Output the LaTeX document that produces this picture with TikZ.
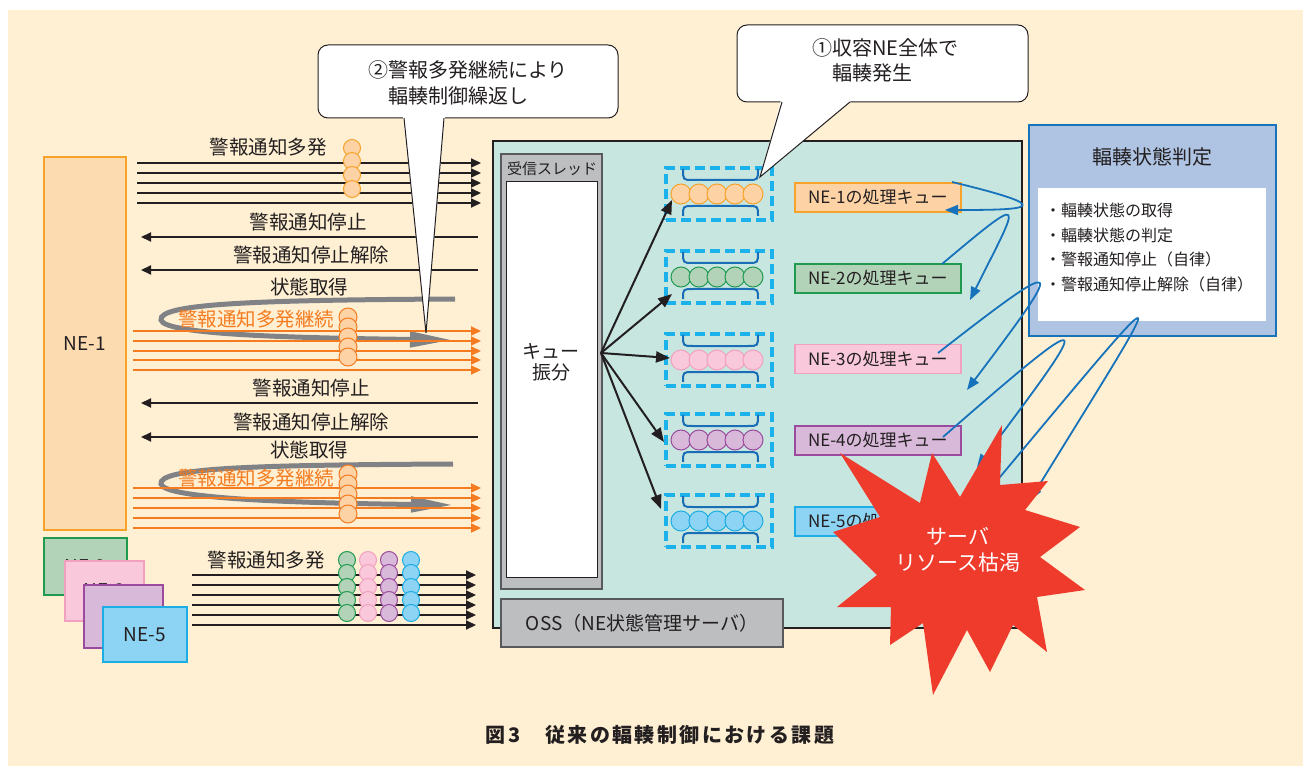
\documentclass[tikz,border=0pt]{standalone}
\usepackage{fontspec}
\setmainfont{Noto Sans CJK JP}
\usetikzlibrary{arrows.meta}
\definecolor{cream}{HTML}{FFF0D3}
\definecolor{txt}{HTML}{231F20}
\definecolor{teal}{HTML}{C8E6E0}
\definecolor{ne1f}{HTML}{FDDBB1}
\definecolor{ne1d}{HTML}{F7A22B}
\definecolor{q1f}{HTML}{FDD3A6}
\definecolor{ne2f}{HTML}{B3D3B9}
\definecolor{ne2d}{HTML}{1F9A4E}
\definecolor{ne3f}{HTML}{F9C8DA}
\definecolor{ne3d}{HTML}{F2A0C0}
\definecolor{ne4f}{HTML}{D8B9DA}
\definecolor{ne4d}{HTML}{9A4B9D}
\definecolor{ne5f}{HTML}{8DD3F4}
\definecolor{ne5d}{HTML}{1CADE4}
\definecolor{orn}{HTML}{F47B20}
\definecolor{loopgray}{HTML}{808285}
\definecolor{gbox}{HTML}{BCBEC0}
\definecolor{gboxd}{HTML}{58595B}
\definecolor{dashc}{HTML}{1BB1EA}
\definecolor{brk}{HTML}{1A6EB5}
\definecolor{rboxf}{HTML}{AFC4E3}
\definecolor{rboxd}{HTML}{1673BA}
\definecolor{blu}{HTML}{1672BA}
\definecolor{burst}{HTML}{EE3B2C}
\begin{document}
\begin{tikzpicture}[x=1pt,y=-1pt,
  lbl/.style={font=\fontsize{19.5}{22}\selectfont, text=txt, inner sep=0pt},
  olbl/.style={font=\fontsize{19.5}{22}\selectfont, text=orn, inner sep=0pt},
  blk/.style={draw=txt, line width=2pt, -{Triangle[length=10pt,width=9pt]}},
  org/.style={draw=orn, line width=2pt, -{Triangle[length=10pt,width=9pt]}},
  grayloop/.style={draw=loopgray, line width=5pt, -{Triangle[length=42pt,width=15pt]}},
  ball/.style={circle, minimum size=17pt, inner sep=0pt, line width=1pt},
  qball/.style={circle, minimum size=20pt, inner sep=0pt, line width=1pt},
  nebox/.style={draw, line width=2.5pt, inner sep=0pt, font=\fontsize{19}{22}\selectfont, text=txt},
  qbox/.style={draw=dashc, line width=3.5pt, dash pattern=on 10pt off 5pt, minimum width=106pt, minimum height=52pt, inner sep=0pt},
  bracket/.style={draw=brk, line width=2pt},
  fanarr/.style={draw=txt, line width=2pt, -{Triangle[length=14pt,width=11pt]}},
  qlab/.style={draw, line width=1.2pt, minimum width=166pt, minimum height=29pt, inner sep=0pt, font=\fontsize{17}{20}\selectfont, text=txt, text width=140pt, align=left},
  bcurve/.style={draw=blu, line width=1.8pt, -{Triangle[length=13pt,width=10pt]}},
  callout/.style={draw=txt, line width=1pt, fill=white},
]
\useasboundingbox (0,0) rectangle (1310,770);
\fill[white] (0,0) rectangle (1310,770);
\fill[cream] (8,10) rectangle (1303,766);

% ---------- NE boxes ----------
\node[nebox, fill=ne1f, draw=ne1d, minimum width=82pt, minimum height=373pt] (ne1) at (85,343.5) {NE-1};
\node[nebox, fill=ne2f, draw=ne2d, minimum width=83pt, minimum height=57pt] (ne2) at (85.5,566.5) {NE-2};
\node[nebox, fill=ne3f, draw=ne3d, minimum width=79pt, minimum height=60pt] (ne3) at (104.5,591) {NE-3};
\node[nebox, fill=ne4f, draw=ne4d, minimum width=79pt, minimum height=63pt] (ne4) at (123.5,616.5) {NE-4};
\node[nebox, fill=ne5f, draw=ne5d, minimum width=84pt, minimum height=55pt] (ne5) at (145,634.5) {NE-5};

% ---------- top group ----------
\node[lbl] (la1) at (268,147) {警報通知多発};
\foreach \y [count=\i] in {163,173,183,193,203} {
  \coordinate (as\i) at (137,\y); \coordinate (ae\i) at (481,\y);
  \draw[blk] (as\i) -- (ae\i);
}
\foreach \y [count=\i] in {148,161,175,189} {
  \node[ball, fill=q1f, draw=ne1d] (oa\i) at (352,\y) {};
}
\node[lbl] (lb1) at (308,222) {警報通知停止};
\coordinate (bs1) at (478,237); \coordinate (be1) at (141,237);
\draw[blk] (bs1) -- (be1);
\node[lbl] (lb2) at (311,255) {警報通知停止解除};
\coordinate (bs2) at (478,270); \coordinate (be2) at (141,270);
\draw[blk] (bs2) -- (be2);
\node[lbl] (lb3) at (309,287) {状態取得};
\coordinate (l1s) at (455,299); \coordinate (l1e) at (452,340);
\draw[grayloop] (l1s) .. controls (250,300) and (158,304) .. (161,320) .. controls (164,335) and (300,338) .. (l1e);
\node[olbl] (lo1) at (256,319) {警報通知多発継続};
\foreach \y [count=\i] in {331,341,351,360,370} {
  \coordinate (os\i) at (133,\y); \coordinate (oe\i) at (481,\y);
  \draw[org] (os\i) -- (oe\i);
}
\foreach \y [count=\i] in {317,327,337,347,357} {
  \node[ball, minimum size=18pt, fill=q1f, draw=orn] (ob\i) at (348,\y) {};
}

% ---------- second group ----------
\node[lbl] (lc1) at (311,388) {警報通知停止};
\coordinate (cs1) at (478,403); \coordinate (ce1) at (141,403);
\draw[blk] (cs1) -- (ce1);
\node[lbl] (lc2) at (311,422) {警報通知停止解除};
\coordinate (cs2) at (478,437); \coordinate (ce2) at (141,437);
\draw[blk] (cs2) -- (ce2);
\node[lbl] (lc3) at (309,450) {状態取得};
\coordinate (l2s) at (453,464); \coordinate (l2e) at (453,505);
\draw[grayloop] (l2s) .. controls (250,465) and (158,468) .. (161,484) .. controls (164,499) and (300,503) .. (l2e);
\node[olbl] (lo2) at (256,478) {警報通知多発継続};
\foreach \y [count=\i] in {488,498,508,518,528} {
  \coordinate (ps\i) at (133,\y); \coordinate (pe\i) at (481,\y);
  \draw[org] (ps\i) -- (pe\i);
}
\foreach \y [count=\i] in {474,484,494,504,514} {
  \node[ball, minimum size=18pt, fill=q1f, draw=orn] (oc\i) at (348,\y) {};
}

% ---------- bottom group ----------
\node[lbl] (ld1) at (266,560) {警報通知多発};
\foreach \y [count=\i] in {575,585,595,605,615,625} {
  \coordinate (ds\i) at (192,\y); \coordinate (de\i) at (476,\y);
  \draw[blk] (ds\i) -- (de\i);
}
\foreach \x/\f/\d [count=\j] in {347/ne2f/ne2d, 368/ne3f/ne3d, 389/ne4f/ne4d, 411/ne5f/ne5d} {
  \foreach \y [count=\i] in {560,573,587,600,613} {
    \node[ball, fill=\f, draw=\d] (db\j\i) at (\x,\y) {};
  }
}

% ---------- callout 2 ----------
\draw[callout, rounded corners=10pt] (318,45) rectangle (618,118);
\fill[white] (403,116) -- (426,333) -- (445,116) -- cycle;
\draw[draw=txt, line width=1pt] (404,118) -- (426,333) -- (444,118);
\node[lbl, font=\fontsize{20}{26}\selectfont, align=left, anchor=west] (c2t) at (368,83) {②警報多発継続により\\　輻輳制御繰返し};

% ---------- OSS server ----------
\node[draw=txt, line width=1.8pt, fill=teal, minimum width=529pt, minimum height=487pt, inner sep=0pt] (oss) at (757.5,384.5) {};
\node[draw=gboxd, line width=1.5pt, fill=gbox, minimum width=101pt, minimum height=435pt, inner sep=0pt] (rth) at (551.5,371.5) {};
\node[lbl, font=\fontsize{15}{18}\selectfont] (rtht) at (552,169) {受信スレッド};
\node[draw=txt, line width=1pt, fill=white, minimum width=91pt, minimum height=395pt, inner sep=0pt] (rthi) at (551.5,379.5) {};
\node[lbl, font=\fontsize{19}{21}\selectfont, align=center] (dist) at (551,362) {キュー\\振分};
\node[draw=gboxd, line width=1.5pt, fill=gbox, minimum width=282pt, minimum height=48pt, inner sep=0pt, font=\fontsize{19}{22}\selectfont, text=txt] (osslab) at (642,623) {OSS（NE状態管理サーバ）};

% ---------- queues ----------
\foreach \i/\cy/\f/\d in {1/194/q1f/ne1d, 2/277/ne2f/ne2d, 3/360/ne3f/ne3d, 4/440/ne4f/ne4d, 5/521/ne5f/ne5d} {
  \node[qbox] (q\i) at (719,\cy) {};
  \foreach \k in {0,...,4} {
    \node[qball, fill=\f, draw=\d] (q\i c\k) at ({681+18*\k},\cy) {};
  }
  \draw[bracket] (683,{\cy-25}) .. controls (683,{\cy-14}) .. (693,{\cy-14}) -- (748,{\cy-14}) .. controls (758,{\cy-14}) .. (758,{\cy-25});
  \draw[bracket] (683,{\cy+22}) .. controls (683,{\cy+12}) .. (693,{\cy+12}) -- (748,{\cy+12}) .. controls (758,{\cy+12}) .. (758,{\cy+22});
}
\coordinate (fan) at (601,353);
\coordinate (t1) at (672,200);
\coordinate (t2) at (672,294);
\coordinate (t3) at (670,358);
\coordinate (t4) at (664,442);
\coordinate (t5) at (661,509);
\foreach \i in {1,...,5} { \draw[fanarr] (fan) -- (t\i); }

% ---------- queue labels ----------
\node[qlab, fill=q1f, draw=ne1d] (lq1) at (878,197.5) {NE-1の処理キュー};
\node[qlab, fill=ne2f, draw=ne2d] (lq2) at (878,278.5) {NE-2の処理キュー};
\node[qlab, fill=ne3f, draw=ne3d] (lq3) at (878,359) {NE-3の処理キュー};
\node[qlab, fill=ne4f, draw=ne4d] (lq4) at (878,440.5) {NE-4の処理キュー};
\node[qlab, fill=ne5f, draw=ne5d] (lq5) at (878,521.5) {NE-5の処理キュー};

% ---------- judgement box ----------
\node[draw=rboxd, line width=2pt, fill=rboxf, minimum width=247pt, minimum height=211pt, inner sep=0pt] (rbox) at (1152.5,230.5) {};
\node[lbl, font=\fontsize{20}{22}\selectfont] (rtitle) at (1152,157) {輻輳状態判定};
\node[fill=white, minimum width=228pt, minimum height=133pt, inner sep=0pt] (rin) at (1152,254.5) {};
\node[lbl, font=\fontsize{16}{18}\selectfont, anchor=west] (bl1) at (1045,210) {・輻輳状態の取得};
\node[lbl, font=\fontsize{16}{18}\selectfont, anchor=west] (bl2) at (1045,235) {・輻輳状態の判定};
\node[lbl, font=\fontsize{16}{18}\selectfont, anchor=west] (bl3) at (1045,259) {・警報通知停止（自律）};
\node[lbl, font=\fontsize{16}{18}\selectfont, anchor=west] (bl4) at (1045,284) {・警報通知停止解除（自律）};

% ---------- blue loops ----------
\coordinate (u1s) at (952,182); \coordinate (u1e) at (945,210);
\draw[bcurve] (u1s) .. controls (1060,208) and (1030,210) .. (u1e);
\coordinate (u2s) at (942,264); \coordinate (u2e) at (970,300);
\draw[bcurve] (u2s) .. controls (1030,190) and (1020,200) .. (u2e);
\coordinate (u3s) at (938,353); \coordinate (u3e) at (967,390);
\draw[bcurve] (u3s) .. controls (1070,250) and (1065,260) .. (u3e);
\coordinate (u4s) at (943,437); \coordinate (u4e) at (977,467);
\draw[bcurve] (u4s) .. controls (1100,300) and (1095,310) .. (u4e);
\coordinate (u5s) at (985,495); \coordinate (u5e) at (1030,500);
\draw[bcurve] (u5s) .. controls (1185,255) and (1175,265) .. (u5e);

% ---------- callout 1 ----------
\draw[callout, rounded corners=10pt] (737,25) rectangle (1028,102);
\fill[white] (781,100) -- (760,177) -- (852,100) -- cycle;
\draw[draw=txt, line width=1pt] (782,102) -- (760,177) -- (850,102);
\node[lbl, font=\fontsize{20}{25}\selectfont, align=left, anchor=west] (c1t) at (812,60.5) {①収容NE全体で\\　輻輳発生};

% ---------- starburst ----------
\fill[burst] (1002,425) -- (1000,485) -- (1048,481) -- (1025,510) -- (1080,527) -- (1040,557) -- (1085,590) -- (1037,597) -- (1047,652) -- (1013,625) -- (990,672) -- (967,630) -- (933,695) -- (923,623) -- (890,645) -- (891,607) -- (837,607) -- (877,575) -- (833,532) -- (880,517) -- (840,453) -- (920,503) -- (932,453) -- (960,497) -- cycle;
\node[font=\fontsize{21}{26}\selectfont, text=white, align=center, inner sep=0pt] (burstt) at (958,550) {サーバ\\リソース枯渇};

% ---------- caption ----------
\node[font=\fontsize{20}{24}\bfseries\selectfont\addfontfeature{LetterSpace=12}, text=txt, inner sep=0pt] (cap) at (660,735) {図3　従来の輻輳制御における課題};
\end{tikzpicture}
\end{document}
